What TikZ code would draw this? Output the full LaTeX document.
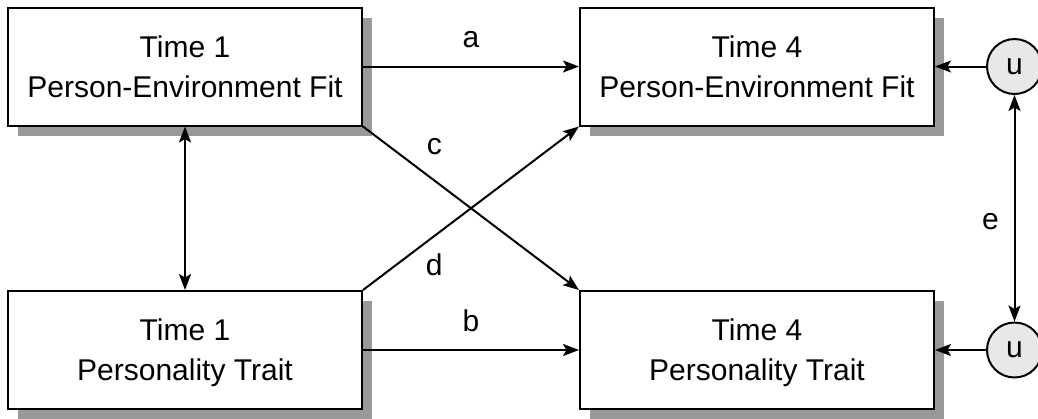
\documentclass[tikz,border=0pt]{standalone}
\usepackage{fontspec}
\setmainfont{Liberation Sans}
\usetikzlibrary{arrows.meta,shadows}
\definecolor{shadowgray}{gray}{0.6}
\definecolor{errfill}{gray}{0.91}
\begin{document}
\begin{tikzpicture}[x=1pt,y=-1pt,
  every node/.style={font=\fontsize{30}{40}\selectfont},
  varbox/.style={draw, line width=2pt, fill=white,
    minimum width=354pt, minimum height=118pt, inner sep=0pt,
    align=center, text depth=0pt,
    general shadow={fill=shadowgray, shadow xshift=10pt, shadow yshift=-10pt}},
  errc/.style={draw, circle, line width=2pt, fill=errfill,
    minimum size=55pt, inner sep=0pt},
  tip/.tip={Stealth[length=16pt,width=12pt,inset=3.5pt]},
  path1/.style={line width=2pt, -tip},
  path2/.style={line width=2pt, tip-tip},
  lbl/.style={inner sep=0pt}]
\useasboundingbox (0,0) rectangle (1038,418);

% observed variables
\node[varbox] (p1) at (185,66.5) {Time 1\\Person-Environment Fit};
\node[varbox] (p4) at (757,66.5) {Time 4\\Person-Environment Fit};
\node[varbox] (t1) at (185,350) {Time 1\\Personality Trait};
\node[varbox] (t4) at (757,350) {Time 4\\Personality Trait};

% residuals
\node[errc] (u1) at (1014.5,66.5) {u};
\node[errc] (u2) at (1014.5,350) {u};

% stability paths
\draw[path1] (p1.east) -- node[lbl, midway, yshift=27pt] {a} (p4.west);
\draw[path1] (t1.east) -- node[lbl, midway, yshift=29pt] {b} (t4.west);

% cross-lagged paths
\draw[path1] (p1.south east) -- node[lbl, pos=0.33, yshift=34pt] {c} (t4.north west);
\draw[path1] (t1.north east) -- node[lbl, pos=0.33, yshift=-29pt] {d} (p4.south west);

% correlations
\draw[path2] (p1.south) -- (t1.north);
\draw[path2] (u1) -- node[lbl, midway, xshift=-24pt, yshift=-13pt] {e} (u2);

% residual paths
\draw[path1] (u1) -- (p4.east);
\draw[path1] (u2) -- (t4.east);
\end{tikzpicture}
\end{document}
